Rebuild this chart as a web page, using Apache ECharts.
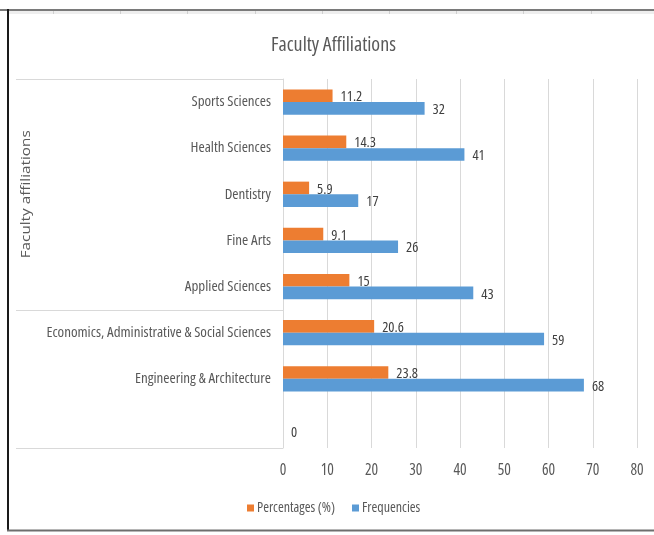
<!DOCTYPE html>
<html>
<head>
<meta charset="utf-8">
<title>Faculty Affiliations</title>
<script src="https://cdn.jsdelivr.net/npm/echarts@6/dist/echarts.min.js"></script>
<style>
  html, body { margin: 0; padding: 0; background: #ffffff; }
  #chart { width: 654px; height: 535px; }
</style>
</head>
<body>
<div id="chart"></div>
<script>
// Faculties, listed bottom-to-top along the category axis (first slot is an empty row)
const categories = [
  '',
  'Engineering & Architecture',
  'Economics, Administrative & Social Sciences',
  'Applied Sciences',
  'Fine Arts',
  'Dentistry',
  'Health Sciences',
  'Sports Sciences'
];
const percentages = [null, 23.8, 20.6, 15, 9.1, 5.9, 14.3, 11.2];
const frequencies = [0, 68, 59, 43, 26, 17, 41, 32];
const xTicks = { min: 0, max: 80, interval: 10 };
const groupLabel = 'Faculty affiliations';
const groupSize = 5; // top rows covered by the group label

// Choose the narrowest installed face (a condensed width if the font offers one)
const measureCtx = document.createElement('canvas').getContext('2d');
const probe = 'Economics, Administrative & Social Sciences';
function widthWith(fontStr, text) {
  measureCtx.font = fontStr;
  return measureCtx.measureText(text || probe).width;
}
function installed(name) {
  return ['monospace', 'serif'].some(base =>
    widthWith('40px ' + base) !== widthWith("40px '" + name + "', " + base));
}
const faces = [
  ['Liberation Sans Narrow', 'normal'],
  ['DejaVu Sans Condensed', 'normal'],
  ['Noto Sans', 'condensed'],
  ['Open Sans', 'condensed'],
  ['Roboto', 'condensed'],
  ['Roboto', 'normal'],
  ['Liberation Sans', 'normal']
].filter(f => installed(f[0]))
 .map(f => ({ family: "'" + f[0] + "', sans-serif", weight: f[1],
   w: widthWith(f[1] + ' 14px ' + "'" + f[0] + "', sans-serif") }))
 .sort((a, b) => a.w - b.w);
const face = faces[0] || { family: 'sans-serif', weight: 'normal', w: widthWith('14px sans-serif') };
const narrow = face.family;
const stretch = face.weight;   // passed through the weight slot of the font shorthand
const labelSize = Math.min(15, Math.floor(14 * 226 / face.w * 2) / 2);
const tickSize = Math.min(15.5, labelSize + 0.5);
const valueSize = Math.min(14.5, labelSize);
const legendSize = Math.min(14, labelSize);
const titleSize = Math.min(20, labelSize * 1.34);

const gray = '#595959';

const chart = echarts.init(document.getElementById('chart'), null, { renderer: 'canvas' });

const labelStyle = {
  show: true,
  position: 'right',
  distance: 8,
  offset: [0, 1.5],
  color: '#404040',
  fontSize: valueSize,
  fontFamily: narrow,
  fontWeight: stretch
};

chart.setOption({
  animation: false,
  backgroundColor: '#ffffff',
  title: {
    text: 'Faculty Affiliations',
    left: 266,
    top: 30,
    textStyle: { color: gray, fontSize: titleSize, fontWeight: stretch, fontFamily: narrow }
  },
  legend: {
    bottom: 15,
    left: 242,
    itemWidth: 7,
    itemHeight: 7,
    itemGap: 17,
    icon: 'rect',
    textStyle: { color: gray, fontSize: legendSize, fontFamily: narrow, fontWeight: stretch, padding: [0, 0, 0, -2] },
    data: ['Percentages (%)', 'Frequencies']
  },
  grid: { left: 283, right: 17, top: 79, bottom: 87, containLabel: false, outerBoundsMode: 'none' },
  xAxis: {
    type: 'value',
    min: xTicks.min,
    max: xTicks.max,
    interval: xTicks.interval,
    axisLine: { show: false },
    axisTick: { show: false },
    splitLine: { lineStyle: { color: '#d9d9d9', width: 1 } },
    axisLabel: { color: gray, fontSize: tickSize, fontFamily: narrow, fontWeight: stretch, margin: 15 }
  },
  yAxis: {
    type: 'category',
    data: categories,
    axisLine: { lineStyle: { color: '#d9d9d9', width: 1 } },
    axisTick: { show: false },
    axisLabel: { color: gray, fontSize: labelSize, fontFamily: narrow, fontWeight: stretch, margin: 12 }
  },
  series: [
    {
      name: 'Percentages (%)',
      type: 'bar',
      data: percentages,
      barGap: '0%',
      barCategoryGap: '45%',
      itemStyle: { color: '#ED7D31' },
      label: labelStyle
    },
    {
      name: 'Frequencies',
      type: 'bar',
      data: frequencies,
      itemStyle: { color: '#5B9BD5' },
      label: labelStyle
    }
  ]
});

// Group label and separators of the two-level category axis, placed from the axis scale
const axisX = chart.convertToPixel({ xAxisIndex: 0 }, 0);
const rowY = categories.map((c, i) => chart.convertToPixel({ yAxisIndex: 0 }, i));
const step = rowY[0] - rowY[1];
const topY = rowY[categories.length - 1] - step / 2;
const bottomY = rowY[0] + step / 2;
const splitY = rowY[categories.length - groupSize] + step / 2;
const groupMid = (topY + splitY) / 2;
const sepStyle = { stroke: '#d9d9d9', lineWidth: 1 };
const groupFont = "13px 'Open Sans', sans-serif";
// the group caption is set loosely, about 0.55 of its band
const groupScale = Math.max(1, (splitY - topY) * 0.555 / widthWith(groupFont, groupLabel));

const frameLines = [];
for (let x = 53; x < 654; x += 67.2) {
  frameLines.push({
    type: 'line', silent: true,
    shape: { x1: Math.round(x) + 0.5, y1: 11, x2: Math.round(x) + 0.5, y2: 14 },
    style: { stroke: '#cfcfcf', lineWidth: 1 }
  });
}

chart.setOption({
  graphic: [
    { type: 'rect', silent: true, shape: { x: 9, y: 11, width: 645, height: 3 }, style: { fill: '#eeeeee' } },
    ...frameLines,
    { type: 'line', silent: true, shape: { x1: 0, y1: 10, x2: 654, y2: 10 }, style: { stroke: '#7a7a7a', lineWidth: 2 } },
    { type: 'line', silent: true, shape: { x1: 8, y1: 9, x2: 8, y2: 531 }, style: { stroke: '#1a1a1a', lineWidth: 2 } },
    { type: 'line', silent: true, shape: { x1: 7, y1: 530.5, x2: 654, y2: 530.5 }, style: { stroke: '#6e6e6e', lineWidth: 2 } },
    { type: 'line', silent: true, shape: { x1: 16, y1: Math.round(topY) + 0.5, x2: axisX, y2: Math.round(topY) + 0.5 }, style: sepStyle },
    { type: 'line', silent: true, shape: { x1: 16, y1: Math.round(splitY) + 0.5, x2: axisX, y2: Math.round(splitY) + 0.5 }, style: sepStyle },
    { type: 'line', silent: true, shape: { x1: 16, y1: Math.round(bottomY) + 0.5, x2: axisX, y2: Math.round(bottomY) + 0.5 }, style: sepStyle },
    {
      type: 'text', silent: true,
      x: 26, y: groupMid, rotation: Math.PI / 2, scaleX: groupScale,
      style: {
        text: groupLabel,
        fill: gray,
        font: groupFont,
        align: 'center',
        verticalAlign: 'middle'
      }
    }
  ]
});
</script>
</body>
</html>
